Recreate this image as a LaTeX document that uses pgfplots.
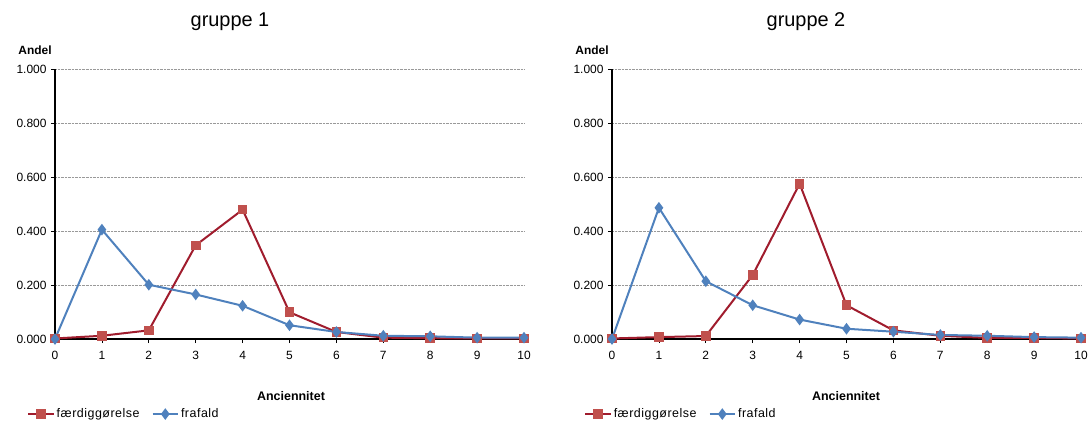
\documentclass[border=0pt]{standalone}
\usepackage{pgfplots}
\pgfplotsset{compat=1.18}
\usepackage{fontspec}
\setmainfont{Liberation Sans}
\newfontfamily\legfont[LetterSpace=4]{Liberation Sans}
\definecolor{redline}{RGB}{160,28,45}
\definecolor{redmark}{RGB}{192,80,77}
\definecolor{blueline}{RGB}{79,129,189}
\pgfplotstableread{
x f1 d1 f2 d2
0 0.002 0.000 0.002 0.000
1 0.012 0.405 0.007 0.486
2 0.032 0.201 0.011 0.214
3 0.347 0.165 0.237 0.125
4 0.479 0.123 0.575 0.072
5 0.099 0.051 0.125 0.038
6 0.026 0.026 0.032 0.027
7 0.005 0.012 0.012 0.015
8 0.003 0.010 0.004 0.012
9 0.002 0.005 0.004 0.007
10 0.002 0.005 0.002 0.005
}\data
\pgfplotsset{
  panel/.style={
    scale only axis, width=469bp, height=270bp,
    anchor=south west,
    xmin=0, xmax=10, ymin=0, ymax=1,
    xtick={0,...,10}, ytick={0,0.2,0.4,0.6,0.8,1},
    axis lines=left,
    axis line style={-, line width=1.6bp, black},
    tick align=outside,
    tick style={black, line width=0.8bp},
    major tick length=4bp,
    ymajorgrids,
    grid style={densely dotted, gray!80, line width=0.6bp},
    clip=false,
    /pgf/number format/assume math mode=true,
    tick label style={font=\fontsize{12}{13}\selectfont},
    yticklabel style={/pgf/number format/fixed, /pgf/number format/fixed zerofill, /pgf/number format/precision=3, xshift=-1bp},
    xticklabel style={yshift=-5bp},
    legend columns=2,
    legend style={draw=none, fill=none, anchor=west, font=\fontsize{12.5}{14}\legfont,
      /tikz/every even column/.append style={column sep=10bp}},
    legend cell align=left,
    legend image code/.code={\draw[mark repeat=2,mark phase=2] plot coordinates {(0cm,0cm) (0.45cm,0cm) (0.9cm,0cm)};},
  },
  rline/.style={redline, line width=2bp, mark=square*, mark size=3.8bp,
    mark options={fill=redmark, draw=redmark, solid}},
  bline/.style={blueline, line width=2bp, mark=diamond*, mark size=4.2bp,
    mark options={fill=blueline, draw=blueline, solid}},
}
\begin{document}
\begin{tikzpicture}[x=1bp,y=1bp]
\path[use as bounding box] (0,0) rectangle (1089,423);
\begin{axis}[panel, at={(55bp,84bp)},
  legend style={at={(-0.066,-0.278)}}]
\addplot[rline] table[x=x,y=f1]{\data};
\addplot[bline] table[x=x,y=d1]{\data};
\legend{f\ae rdigg\o relse, frafald}
\end{axis}
\begin{axis}[panel, at={(612bp,84bp)},
  legend style={at={(-0.066,-0.278)}}]
\addplot[rline] table[x=x,y=f2]{\data};
\addplot[bline] table[x=x,y=d2]{\data};
\legend{f\ae rdigg\o relse, frafald}
\end{axis}
\node[font=\fontsize{20}{24}\selectfont] at (230,401) {gruppe 1};
\node[font=\fontsize{20}{24}\selectfont] at (806,401) {gruppe 2};
\node[font=\fontsize{12}{14}\selectfont\bfseries] at (35,373) {Andel};
\node[font=\fontsize{12}{14}\selectfont\bfseries] at (592,373) {Andel};
\node[font=\fontsize{12.5}{14}\selectfont\bfseries] at (291,27) {Anciennitet};
\node[font=\fontsize{12.5}{14}\selectfont\bfseries] at (846,27) {Anciennitet};
\end{tikzpicture}
\end{document}
